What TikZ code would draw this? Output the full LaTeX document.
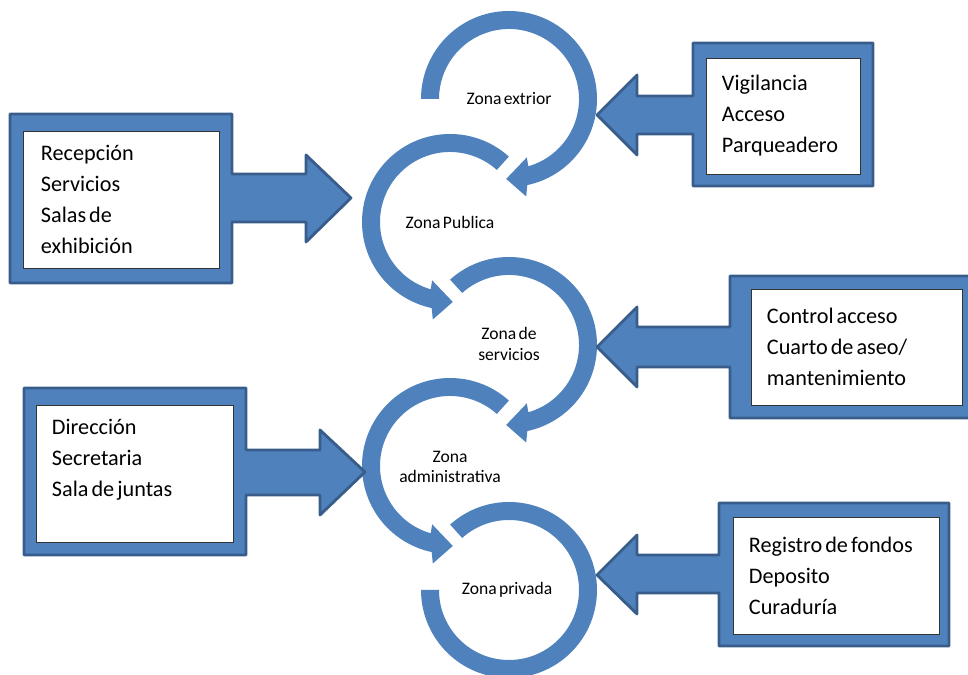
\documentclass[tikz,border=0pt]{standalone}
\usepackage{fontspec}
\setmainfont{Carlito}[WordSpace=0.6]
\usepackage{tikz}
\definecolor{zoneblue}{HTML}{4F81BD}
\definecolor{zoneedge}{HTML}{385D8A}
\tikzset{
  zonelabel/.style={align=center, inner sep=0pt, font=\fontsize{12.5}{14.5}\selectfont},
  listbox/.style={draw=black!80, line width=0.6pt, fill=white, align=flush left, inner xsep=0.4cm, inner ysep=0pt, font=\fontsize{15.8}{22}\selectfont},
  callout/.style={fill=zoneblue, draw=zoneedge, line width=2pt, line join=round},
  zone arrow/.pic={
    \fill[zoneblue] (#1:88) arc[start angle=#1, end angle=-78, radius=88] -- (-80:99) -- (-92:80) -- (-73:61) -- (-74:70) arc[start angle=-74, end angle=#1, radius=70] -- cycle;
  }
}

\begin{document}
\begin{tikzpicture}[x=0.025cm, y=0.025cm]
  \useasboundingbox (0,0) rectangle (968,675);

  \node[zonelabel] (z1) at (509,576) {Zona extrior};
  \node[zonelabel] (z2) at (450,453) {Zona Publica};
  \node[zonelabel] (z3) at (509,331) {Zona de\\servicios};
  \node[zonelabel] (z4) at (450,208) {Zona\\administrativa};
  \node[zonelabel] (z5) at (507,85) {Zona privada};

  \pic at (z1.center) {zone arrow=180};
  \pic[xscale=-1] at (z2.center) {zone arrow=132};
  \pic at (509,330) {zone arrow=132};
  \pic[xscale=-1] at (450,209) {zone arrow=132};
  \fill[zoneblue, shift={(509,85)}] (132:88) arc[start angle=132, end angle=-180, radius=88] -- (180:70) arc[start angle=-180, end angle=132, radius=70] -- cycle;

  \draw[callout] (10,561) -- (232,561) -- (232,501) -- (306,501) -- (306,520) -- (351,477) -- (306,433) -- (306,453) -- (232,453) -- (232,392) -- (10,392) -- cycle;
  \draw[callout] (873,632) -- (693,632) -- (693,579) -- (637,579) -- (637,600) -- (597,560) -- (637,520) -- (637,541) -- (693,541) -- (693,489) -- (873,489) -- cycle;
  \draw[callout] (985,399) -- (730,399) -- (730,348) -- (637,348) -- (637,368) -- (597,328) -- (637,288) -- (637,308) -- (730,308) -- (730,257) -- (985,257) -- cycle;
  \draw[callout] (24,287) -- (246,287) -- (246,225) -- (320,225) -- (320,245) -- (365,203) -- (320,160) -- (320,180) -- (246,180) -- (246,120) -- (24,120) -- cycle;
  \draw[callout] (949,172) -- (719,172) -- (719,120) -- (637,120) -- (637,140) -- (597,100) -- (637,61) -- (637,82) -- (719,82) -- (719,29) -- (949,29) -- cycle;

  \node[listbox, minimum width=4.9cm, minimum height=3.425cm, text width=4.0cm, inner xsep=0.45cm] (recepcion) at (121,475.5) {Recepción\\Servicios\\Salas de\\exhibición};
  \node[listbox, minimum width=3.85cm, minimum height=2.9cm, text width=3.05cm] (vigilancia) at (783,559) {Vigilancia\\Acceso\\Parqueadero};
  \node[listbox, minimum width=5.275cm, minimum height=2.9cm, text width=4.475cm] (control) at (856.5,328) {Control acceso\\Cuarto de aseo/\\mantenimiento};
  \node[listbox, minimum width=4.925cm, minimum height=3.425cm, text width=4.125cm] (direccion) at (134.5,201.5) {Dirección\\Secretaria\\Sala de juntas\\ \mbox{}};
  \node[listbox, minimum width=5.15cm, minimum height=2.925cm, text width=4.35cm] (registro) at (836,99.5) {Registro de fondos\\Deposito\\Curaduría};
\end{tikzpicture}
\end{document}
